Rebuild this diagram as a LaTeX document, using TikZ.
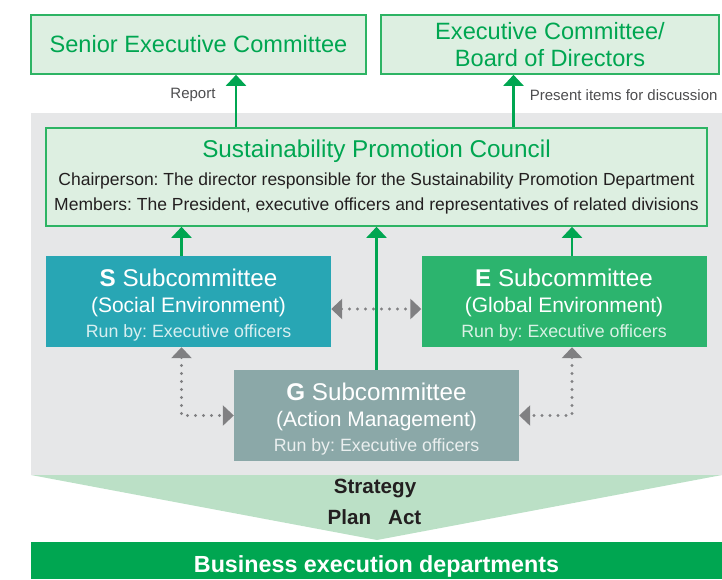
\documentclass[tikz,border=0pt]{standalone}
\usepackage{fontspec}
\setmainfont{Liberation Sans}
\usetikzlibrary{positioning,arrows.meta,calc}
\frenchspacing

\definecolor{cgreen}{RGB}{0,166,81}
\definecolor{cborder}{RGB}{45,180,100}
\definecolor{cpale}{RGB}{221,239,225}
\definecolor{cbg}{RGB}{230,231,232}
\definecolor{ctri}{RGB}{187,224,198}
\definecolor{cteal}{RGB}{40,166,180}
\definecolor{cegreen}{RGB}{44,180,110}
\definecolor{cgteal}{RGB}{139,168,168}
\definecolor{cdots}{RGB}{128,128,130}
\definecolor{clabel}{RGB}{77,77,79}
\definecolor{cdark}{RGB}{35,31,32}

\newcommand\setfs[2]{\fontsize{#1}{#2}\selectfont}

\begin{document}
\begin{tikzpicture}[
        x=1pt, y=-1pt,
        topbox/.style={draw=cborder, line width=1.6pt, fill=cpale, text=cgreen, align=center, inner sep=0pt},
        subbox/.style={fill=#1, text=white, align=center, minimum width=285pt, minimum height=91pt, inner sep=0pt,
            font=\setfs{21}{26}},
        uparrow/.style={draw=cgreen, line width=2.2pt, -{Triangle[length=11pt,width=20pt]}},
        dotarrow/.style={draw=cdots, line width=3.2pt, line cap=round, dash pattern=on 0pt off 8pt,
            {Triangle[length=11pt,width=20pt]}-{Triangle[length=11pt,width=20pt]}}
    ]
    \useasboundingbox (0,0) rectangle (722,579);

    % background panel and funnel
    \fill[cbg] (31,113) rectangle (722,475);
    \fill[ctri] (31,475) -- (722,475) -- (377,540) -- cycle;

    % top level
    \node[topbox, minimum width=335pt, minimum height=59pt, font=\setfs{23.6}{27}] (senior) at (198.5,44.5)
        {Senior Executive Committee};
    \node[topbox, minimum width=338pt, minimum height=59pt, font=\setfs{23.6}{27}] (board) at (550,44.5)
        {Executive Committee/\\Board of Directors};
    \node[topbox, minimum width=661pt, minimum height=98pt, font=\setfs{17.5}{25}] (council) at (376.5,177)
        {{\setfs{24.3}{25}Sustainability Promotion Council}\\[3pt]
         {\color{cdark}Chairperson: The director responsible for the Sustainability Promotion Department}\\
         {\color{cdark}Members: The President, executive officers and representatives of related divisions}};

    % subcommittees
    \node[subbox=cteal] (S) at (188.5,301.5)
        {{\setfs{24.2}{26}\rule{0pt}{25pt}\textbf{S} Subcommittee}\\
         (Social Environment)\\[-1pt]
         {\setfs{17.8}{20}\color{white!82!cteal}Run by: Executive officers}};
    \node[subbox=cegreen] (E) at (564,301.5)
        {{\setfs{24.2}{26}\rule{0pt}{25pt}\textbf{E} Subcommittee}\\
         (Global Environment)\\[-1pt]
         {\setfs{17.8}{20}\color{white!82!cegreen}Run by: Executive officers}};
    \node[subbox=cgteal] (G) at (376.5,415.5)
        {{\setfs{24.2}{26}\rule{0pt}{25pt}\textbf{G} Subcommittee}\\
         (Action Management)\\[-1pt]
         {\setfs{17.8}{20}\color{white!82!cgteal}Run by: Executive officers}};

    % bottom
    \node[fill=cgreen, minimum width=691pt, minimum height=37pt, inner sep=0pt, text=white,
        text height=24pt, text depth=0pt,
        font=\setfs{23.3}{26}\bfseries] (biz) at (376.5,560.5) {Business execution departments};
    \node[text=cdark, font=\setfs{20.6}{22}\bfseries] (strategy) at (375,488) {Strategy};
    \node[text=cdark, font=\setfs{20.6}{22}\bfseries] (planact) at (374.5,517) {Plan\hspace{17pt}Act};

    % labels
    \node[anchor=east, text=clabel, font=\setfs{15}{18}] (report) at (219,95) {Report};
    \node[anchor=east, text=clabel, font=\setfs{15}{18}] (present) at (721,95) {Present items for discussion};

    % dotted links
    \draw[dotarrow] ([yshift=-7.5pt]S.east) -- ([yshift=-7.5pt]E.west);
    \coordinate (sdown) at ([xshift=-7pt]S.south);
    \coordinate (edown) at ([xshift=8pt]E.south);
    \draw[dotarrow] (sdown) |- (G.west);
    \draw[dotarrow] (edown) |- (G.east);

    % reporting lines
    \coordinate (rep) at ([xshift=37.5pt]senior.south);
    \coordinate (pres) at ([xshift=-36.5pt]board.south);
    \draw[uparrow] (council.north -| rep) -- (rep);
    \draw[uparrow] (council.north -| pres) -- (pres);
    \coordinate (sup) at ([xshift=-7pt]S.north);
    \coordinate (eup) at ([xshift=8pt]E.north);
    \draw[uparrow] (sup) -- (council.south -| sup);
    \draw[uparrow] (eup) -- (council.south -| eup);
    \draw[uparrow] (G.north) -- (council.south);
\end{tikzpicture}
\end{document}
